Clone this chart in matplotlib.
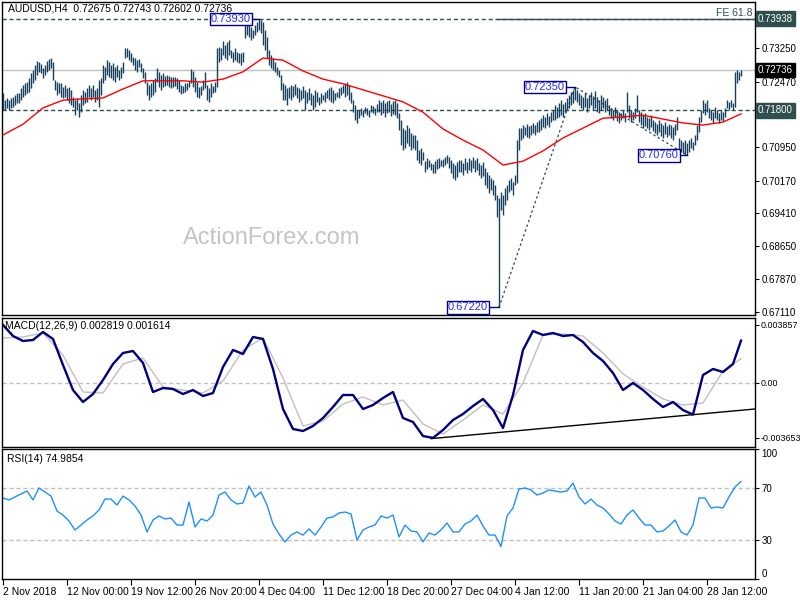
import numpy as np
import matplotlib.pyplot as plt

plt.rcParams['font.family'] = ['Liberation Sans', 'DejaVu Sans']

# AUDUSD H4 bars, high / low in pips (x 1e-4), one value per bar
highs = [
    7221, 7204, 7209, 7204, 7209, 7211, 7216, 7221, 7221, 7232,
    7239, 7244, 7246, 7256, 7267, 7274, 7286, 7295, 7293, 7288,
    7279, 7286, 7295, 7300, 7302, 7293, 7251, 7246, 7244, 7244,
    7235, 7239, 7232, 7235, 7228, 7211, 7204, 7209, 7197, 7216,
    7228, 7223, 7232, 7239, 7232, 7239, 7228, 7232, 7251, 7256,
    7286, 7281, 7297, 7293, 7286, 7291, 7281, 7286, 7274, 7281,
    7293, 7325, 7325, 7321, 7314, 7304, 7302, 7297, 7300, 7291,
    7279, 7270, 7246, 7239, 7244, 7251, 7256, 7279, 7270, 7263,
    7267, 7260, 7263, 7260, 7258, 7258, 7258, 7256, 7251, 7239,
    7237, 7244, 7244, 7249, 7276, 7272, 7258, 7246, 7235, 7237,
    7251, 7270, 7239, 7232, 7244, 7237, 7246, 7325, 7328, 7325,
    7342, 7332, 7339, 7344, 7321, 7316, 7325, 7316, 7314, 7314,
    7316, 7379, 7386, 7381, 7374, 7367, 7379, 7386, 7393, 7390,
    7386, 7367, 7351, 7321, 7309, 7302, 7293, 7281, 7274, 7263,
    7244, 7239, 7232, 7235, 7239, 7237, 7242, 7235, 7232, 7228,
    7237, 7228, 7223, 7232, 7221, 7216, 7228, 7223, 7211, 7221,
    7216, 7223, 7228, 7232, 7235, 7228, 7221, 7223, 7232, 7235,
    7239, 7244, 7246, 7239, 7223, 7204, 7193, 7181, 7181, 7186,
    7181, 7188, 7186, 7181, 7193, 7190, 7186, 7195, 7204, 7200,
    7204, 7197, 7202, 7204, 7195, 7202, 7204, 7197, 7174, 7158,
    7139, 7135, 7146, 7139, 7128, 7123, 7123, 7111, 7088, 7093,
    7083, 7062, 7069, 7065, 7058, 7055, 7062, 7067, 7069, 7065,
    7067, 7072, 7076, 7072, 7065, 7058, 7053, 7060, 7065, 7065,
    7058, 7069, 7060, 7069, 7065, 7072, 7065, 7069, 7058, 7053,
    7060, 7046, 7037, 7030, 7023, 7018, 7007, 6983, 6976, 6990,
    6983, 7000, 7007, 7018, 7023, 7014, 7030, 7111, 7139, 7139,
    7146, 7142, 7148, 7144, 7146, 7151, 7146, 7153, 7158, 7162,
    7169, 7165, 7174, 7167, 7176, 7181, 7193, 7188, 7197, 7204,
    7195, 7200, 7209, 7216, 7223, 7228, 7235, 7228, 7221, 7216,
    7211, 7221, 7209, 7216, 7223, 7214, 7225, 7211, 7204, 7216,
    7211, 7204, 7209, 7193, 7186, 7181, 7188, 7181, 7176, 7174,
    7181, 7174, 7223, 7193, 7181, 7176, 7186, 7216, 7181, 7176,
    7169, 7174, 7165, 7162, 7169, 7158, 7153, 7148, 7158, 7151,
    7146, 7153, 7144, 7148, 7146, 7142, 7148, 7165, 7116, 7111,
    7107, 7111, 7104, 7111, 7116, 7107, 7123, 7146, 7165, 7181,
    7204, 7197, 7204, 7186, 7181, 7176, 7188, 7181, 7174, 7181,
    7176, 7186, 7204, 7200, 7204, 7197, 7270, 7274, 7270, 7274,
]
lows = [
    7181, 7181, 7186, 7181, 7186, 7188, 7193, 7197, 7197, 7204,
    7211, 7216, 7221, 7223, 7232, 7244, 7251, 7263, 7270, 7267,
    7256, 7263, 7270, 7274, 7279, 7251, 7228, 7216, 7221, 7211,
    7209, 7211, 7204, 7197, 7193, 7188, 7169, 7181, 7165, 7176,
    7193, 7197, 7200, 7211, 7204, 7211, 7200, 7204, 7188, 7216,
    7244, 7251, 7263, 7258, 7256, 7251, 7246, 7258, 7251, 7256,
    7267, 7302, 7304, 7297, 7293, 7286, 7274, 7270, 7281, 7270,
    7256, 7244, 7216, 7204, 7211, 7216, 7223, 7246, 7235, 7228,
    7235, 7237, 7239, 7235, 7232, 7235, 7237, 7230, 7223, 7218,
    7221, 7223, 7228, 7235, 7244, 7235, 7223, 7211, 7209, 7216,
    7228, 7232, 7204, 7200, 7211, 7221, 7223, 7235, 7293, 7297,
    7309, 7302, 7297, 7309, 7302, 7293, 7297, 7293, 7291, 7286,
    7293, 7349, 7356, 7351, 7344, 7349, 7356, 7363, 7367, 7360,
    7332, 7321, 7302, 7286, 7279, 7274, 7270, 7263, 7258, 7228,
    7204, 7204, 7193, 7209, 7204, 7211, 7216, 7209, 7200, 7204,
    7209, 7181, 7197, 7204, 7193, 7181, 7188, 7200, 7193, 7197,
    7204, 7200, 7209, 7204, 7200, 7197, 7204, 7211, 7209, 7216,
    7221, 7211, 7216, 7204, 7197, 7176, 7158, 7151, 7162, 7169,
    7165, 7174, 7169, 7165, 7176, 7174, 7169, 7176, 7176, 7169,
    7174, 7165, 7174, 7176, 7167, 7172, 7169, 7162, 7135, 7100,
    7088, 7093, 7104, 7097, 7088, 7093, 7088, 7065, 7058, 7053,
    7065, 7037, 7044, 7048, 7041, 7034, 7034, 7044, 7046, 7051,
    7048, 7053, 7058, 7046, 7034, 7023, 7018, 7025, 7037, 7037,
    7030, 7041, 7034, 7041, 7037, 7046, 7037, 7041, 7030, 7023,
    7027, 7007, 7000, 6988, 6995, 6983, 6972, 6932, 6722, 6948,
    6937, 6960, 6972, 6990, 6995, 6983, 7007, 7011, 7088, 7111,
    7116, 7123, 7118, 7116, 7123, 7128, 7123, 7130, 7130, 7135,
    7142, 7139, 7146, 7142, 7153, 7158, 7158, 7162, 7165, 7169,
    7165, 7176, 7181, 7186, 7193, 7197, 7204, 7200, 7193, 7186,
    7181, 7188, 7176, 7186, 7193, 7181, 7186, 7176, 7174, 7181,
    7186, 7176, 7181, 7169, 7162, 7158, 7165, 7156, 7151, 7158,
    7162, 7153, 7176, 7162, 7153, 7158, 7162, 7176, 7153, 7146,
    7139, 7144, 7139, 7135, 7142, 7132, 7128, 7123, 7130, 7121,
    7116, 7125, 7118, 7123, 7116, 7111, 7123, 7135, 7088, 7083,
    7081, 7076, 7076, 7083, 7093, 7088, 7100, 7111, 7130, 7153,
    7174, 7169, 7176, 7162, 7158, 7151, 7162, 7158, 7151, 7158,
    7156, 7165, 7186, 7181, 7188, 7181, 7188, 7244, 7251, 7260,
]

# moving average (red), read every 10 bars plus the last bar, in pips
ma = [7123, 7148, 7186, 7204, 7207, 7209, 7230, 7249, 7249, 7249,
      7246, 7253, 7270, 7302, 7297, 7272, 7253, 7242, 7228, 7214,
      7200, 7176, 7137, 7111, 7088, 7053, 7062, 7086, 7116, 7139,
      7162, 7165, 7169, 7160, 7151, 7146, 7153, 7172]

# MACD(12,26,9) main line every 5 bars + last, signal every 10 bars + last (x 1e-6)
macd = [3857, 3126, 2793, 2860, 3392, 2926, 1197, -466, -1264, -732,
        200, 1264, 1995, 2128, 1330, -599, -333, -399, -732, -466,
        -865, -665, 1064, 2195, 1929, 3059, 2926, 931, -1729, -3059,
        -3192, -2860, -2328, -1596, -798, -798, -1729, -1463, -998, -599,
        -2328, -2594, -3525, -3653, -3126, -2461, -2062, -1530, -1064, -1796,
        -2993, -798, 2195, 3458, 3192, 3325, 3126, 3192, 2727, 1995,
        1463, 665, -466, 0, -466, -1064, -1596, -1264, -1800, -2100,
        532, 931, 732, 1264, 2819]
signal = [2993, 3059, 3325, 1862, -599, -665, 1264, 1663, -266, -466,
          -665, 133, 2195, 2993, 333, -2860, -2527, -1397, -931, -1463,
          -1131, -2727, -3392, -2461, -1463, -2062, 0, 3192, 3259, 3126,
          1995, 599, -266, -1064, -1463, -1330, 798, 1614]

# RSI(14), every 3 bars
rsi = [62.3, 60.8, 63.1, 65.4, 67.7, 60.8, 70.0, 66.9, 63.8, 52.3,
       49.2, 44.6, 37.7, 41.5, 45.4, 48.5, 53.1, 61.5, 61.5, 56.9,
       63.8, 60.8, 56.2, 49.2, 36.2, 45.4, 48.5, 46.2, 46.9, 41.5,
       41.5, 59.2, 40.0, 46.2, 44.6, 49.2, 64.6, 66.9, 60.8, 57.7,
       58.5, 71.5, 63.1, 66.9, 56.9, 42.3, 34.6, 28.5, 33.8, 36.2,
       33.8, 38.5, 33.8, 40.0, 46.9, 47.7, 50.8, 51.5, 50.0, 30.0,
       37.7, 40.0, 41.5, 48.5, 46.9, 49.2, 32.3, 41.5, 36.9, 36.2,
       28.5, 35.4, 33.8, 37.7, 43.1, 36.2, 36.2, 42.3, 44.6, 49.2,
       40.8, 33.8, 33.8, 25.0, 48.5, 54.6, 69.2, 70.0, 68.5, 64.6,
       66.2, 68.5, 67.7, 66.9, 67.7, 73.8, 63.1, 57.7, 61.5, 56.9,
       54.6, 50.0, 44.6, 42.3, 49.2, 53.1, 46.9, 41.5, 41.5, 36.2,
       36.9, 40.8, 45.4, 36.2, 33.8, 41.5, 62.3, 62.3, 54.6, 55.4,
       54.6, 63.1, 70.8, 74.9854]

date_labels = ['2 Nov 2018', '12 Nov 00:00', '19 Nov 12:00', '26 Nov 20:00',
               '4 Dec 04:00', '11 Dec 12:00', '18 Dec 20:00', '27 Dec 04:00',
               '4 Jan 12:00', '11 Jan 20:00', '21 Jan 04:00', '28 Jan 12:00']
price_ticks = [0.73250, 0.72470, 0.71710, 0.70950, 0.70170,
               0.69410, 0.68650, 0.67870, 0.67110]

last_close = 0.72736
fe_level = 0.73938
support = 0.71800
swings = [(128, 0.73930), (248, 0.67220), (286, 0.72350), (342, 0.70760)]

n = len(highs)
bars = np.arange(n)
hi = np.array(highs) / 1e4
lo = np.array(lows) / 1e4
ma_x = list(range(0, n - 9, 10)) + [n - 1]
macd_x = list(range(0, n - 4, 5)) + [n - 1]
sig_x = list(range(0, n - 9, 10)) + [n - 1]
rsi_x = np.arange(len(rsi)) * 3

bar_col = '#17405e'
slate = '#2f4f4f'
fs = 7

fig = plt.figure(figsize=(8, 6), dpi=100)
L, W = 2 / 800, 753 / 800
ax1 = fig.add_axes([L, 1 - 315 / 600, W, 313 / 600])
ax2 = fig.add_axes([L, 1 - 447 / 600, W, 129 / 600], sharex=ax1)
ax3 = fig.add_axes([L, 1 - 579 / 600, W, 130 / 600], sharex=ax1)

for ax in (ax1, ax2, ax3):
    ax.yaxis.tick_right()
    ax.tick_params(axis='y', direction='out', length=3, width=0.8,
                   labelsize=fs, pad=1.5)
    for s in ax.spines.values():
        s.set_color('black')
        s.set_linewidth(1)
ax1.tick_params(axis='x', bottom=False, labelbottom=False)
ax2.tick_params(axis='x', bottom=False, labelbottom=False)
ax2.tick_params(axis='y', labelsize=6.4, pad=1)

# ---- price panel
ax1.axhline(last_close, color='#c0c0c0', lw=1, zorder=1)
ax1.axhline(support, color=slate, lw=1, dashes=(3, 2), zorder=1)
ax1.axhline(swings[0][1], color=slate, lw=1, dashes=(3, 2), zorder=1)
ax1.plot([247, 376], [fe_level, fe_level], color=slate, lw=1)
ax1.text(375, fe_level + 0.0002, 'FE 61.8', ha='right', va='bottom',
         fontsize=fs + 0.5, color=slate)
ax1.vlines(bars, lo, hi, colors=bar_col, lw=1.0, zorder=3)
ax1.plot(ma_x, np.array(ma) / 1e4, color='red', lw=1, zorder=4)

# FE projection legs
ax1.plot([swings[1][0], swings[2][0], swings[3][0]],
         [swings[1][1], swings[2][1], swings[3][1]],
         color=slate, lw=0.9, ls=(0, (2, 2)), zorder=2)

for (b, p), off in zip(swings, (4, 5.5, 5, 4)):
    ax1.plot([b - off, b], [p, p], color='#000080', lw=1, zorder=5)
    ax1.text(b - off, p, f'{p:.5f}', ha='right', va='center', fontsize=8,
             color='#2a2aff', zorder=6,
             bbox=dict(boxstyle='square,pad=0.12', fc='white', ec='#000080', lw=1))

ax1.set_ylim(0.67041, 0.74324)
ax1.set_yticks(price_ticks)
ax1.set_yticklabels([f'{v:.5f}' for v in price_ticks])


def tag(ax, y, txt, bg):
    ax.text(1.004, y, txt, transform=ax.get_yaxis_transform(), ha='left',
            va='center', fontsize=fs, color='white', clip_on=False, zorder=10,
            bbox=dict(boxstyle='square,pad=0.22', fc=bg, ec=bg))


tag(ax1, fe_level, f'{fe_level:.5f}', slate)
tag(ax1, last_close, f'{last_close:.5f}', 'black')
tag(ax1, support, f'{support:.5f}', slate)

ax1.text(0.008, 0.978, f'AUDUSD,H4  0.72675 0.72743 0.72602 {last_close:.5f}',
         transform=ax1.transAxes, fontsize=fs + 0.5, va='center', ha='left')
fig.text(272 / 800, 1 - 238 / 600, 'ActionForex.com', fontsize=17,
         color='#c4c4c4', ha='center', va='center')

# ---- MACD panel
ax2.axhline(0, color='#c0c0c0', lw=1, dashes=(3, 2))
ax2.plot(sig_x, np.array(signal) * 1e-6, color='#c0c0c0', lw=1)
ax2.plot(macd_x, np.array(macd) * 1e-6, color='#000080', lw=1.7)
ax2.plot([214, 376], [-0.00370, -0.001729], color='black', lw=1)
ax2.set_ylim(-0.004256, 0.004322)
ax2.set_yticks([0.003857, 0.0, -0.003653])
ax2.set_yticklabels(['0.003857', '0.00', '-0.003653'])
ax2.text(0.004, 0.938, f'MACD(12,26,9) {macd[-1] * 1e-6:.6f} {signal[-1] * 1e-6:.6f}',
         transform=ax2.transAxes, fontsize=fs + 0.5, va='center', ha='left')

# ---- RSI panel
for lvl in (70, 30):
    ax3.axhline(lvl, color='#c0c0c0', lw=1, dashes=(3, 2))
ax3.plot(rsi_x, rsi, color='#1e90ff', lw=1)
ax3.set_ylim(0, 100)
ax3.set_yticks([100, 70, 30, 0])
ax3.set_yticklabels(['100', '70', '30', '0'])
tl = ax3.get_yticklabels()
tl[0].set_va('top')
tl[-1].set_va('bottom')
ax3.text(0.007, 0.923, f'RSI(14) {rsi[-1]:.4f}', transform=ax3.transAxes,
         fontsize=fs + 0.5, va='center', ha='left')

ax3.set_xlim(-0.5, 376)
ax3.set_xticks(np.arange(len(date_labels)) * 32)
ax3.set_xticklabels(date_labels)
ax3.tick_params(axis='x', direction='out', length=4, width=0.8, labelsize=fs + 0.5, pad=2)
for t in ax3.get_xticklabels():
    t.set_ha('left')

fig.savefig('out.png', dpi=100)
